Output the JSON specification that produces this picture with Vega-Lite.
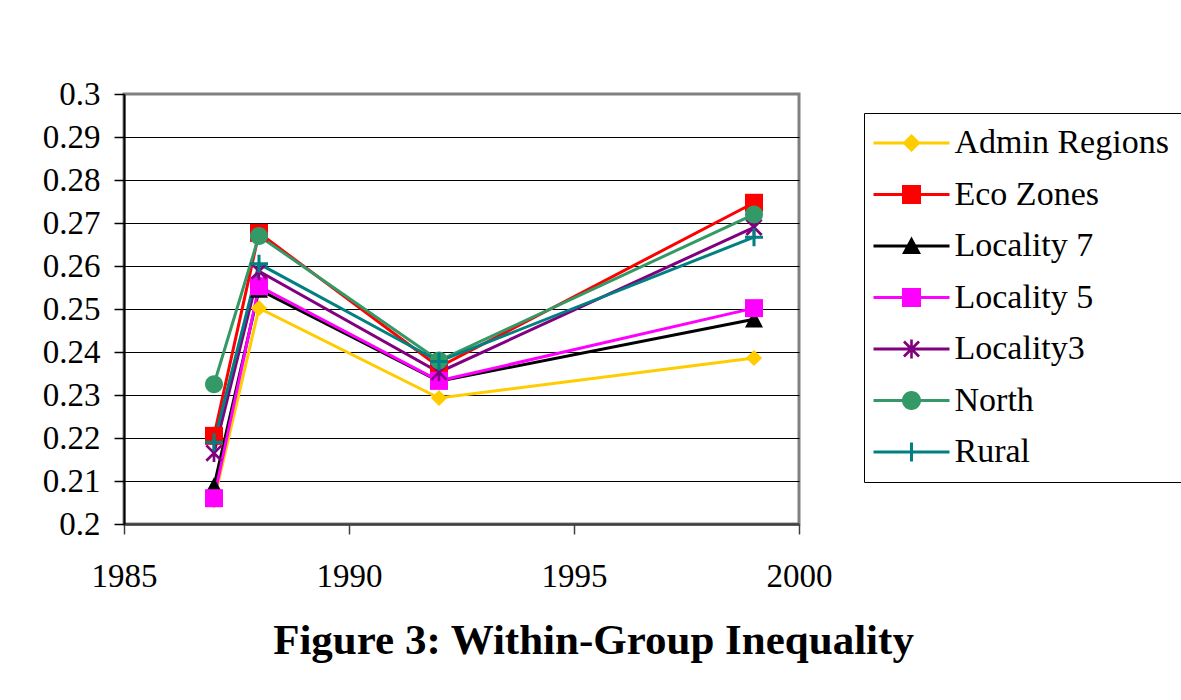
{
  "$schema": "https://vega.github.io/schema/vega-lite/v6.json",
  "width": 675,
  "height": 430,
  "autosize": {"type": "none"},
  "padding": {"left": 124, "top": 94, "right": 382, "bottom": 176},
  "background": "white",
  "config": {
    "view": {"stroke": "#808080", "strokeWidth": 3},
    "font": "Liberation Serif"
  },
  "title": {
    "text": "Figure 3: Within-Group Inequality",
    "orient": "bottom",
    "frame": "group",
    "anchor": "middle",
    "dx": 132,
    "offset": 27,
    "font": "Liberation Serif",
    "fontSize": 43,
    "fontWeight": "bold",
    "color": "black"
  },
  "data": {
    "values": [
      {"series": "Admin Regions", "year": 1987, "value": 0.2055},
      {"series": "Admin Regions", "year": 1988, "value": 0.2502},
      {"series": "Admin Regions", "year": 1992, "value": 0.2293},
      {"series": "Admin Regions", "year": 1999, "value": 0.2386},
      {"series": "Eco Zones", "year": 1987, "value": 0.2205},
      {"series": "Eco Zones", "year": 1988, "value": 0.2677},
      {"series": "Eco Zones", "year": 1992, "value": 0.2365},
      {"series": "Eco Zones", "year": 1999, "value": 0.2747},
      {"series": "Locality 7", "year": 1987, "value": 0.2088},
      {"series": "Locality 7", "year": 1988, "value": 0.2545},
      {"series": "Locality 7", "year": 1992, "value": 0.2332},
      {"series": "Locality 7", "year": 1999, "value": 0.2476},
      {"series": "Locality 5", "year": 1987, "value": 0.2060},
      {"series": "Locality 5", "year": 1988, "value": 0.2553},
      {"series": "Locality 5", "year": 1992, "value": 0.2333},
      {"series": "Locality 5", "year": 1999, "value": 0.2502},
      {"series": "Locality3", "year": 1987, "value": 0.2165},
      {"series": "Locality3", "year": 1988, "value": 0.2588},
      {"series": "Locality3", "year": 1992, "value": 0.2353},
      {"series": "Locality3", "year": 1999, "value": 0.2690},
      {"series": "North", "year": 1987, "value": 0.2325},
      {"series": "North", "year": 1988, "value": 0.2670},
      {"series": "North", "year": 1992, "value": 0.2380},
      {"series": "North", "year": 1999, "value": 0.2720},
      {"series": "Rural", "year": 1987, "value": 0.2190},
      {"series": "Rural", "year": 1988, "value": 0.2605},
      {"series": "Rural", "year": 1992, "value": 0.2378},
      {"series": "Rural", "year": 1999, "value": 0.2667}
    ]
  },
  "encoding": {
    "x": {
      "field": "year",
      "type": "quantitative",
      "scale": {"domain": [1985, 2000], "nice": false, "zero": false},
      "axis": {
        "title": null,
        "values": [1985, 1990, 1995, 2000],
        "format": "d",
        "grid": false,
        "labelFont": "Liberation Serif",
        "labelFontSize": 33,
        "labelColor": "black",
        "labelPadding": 26,
        "labelFlush": false,
        "domainColor": "#404040",
        "domainWidth": 2.5,
        "tickColor": "#404040",
        "tickSize": 10,
        "tickWidth": 1.5
      }
    },
    "y": {
      "field": "value",
      "type": "quantitative",
      "scale": {"domain": [0.2, 0.3], "nice": false, "zero": false},
      "axis": {
        "title": null,
        "values": [0.2, 0.21, 0.22, 0.23, 0.24, 0.25, 0.26, 0.27, 0.28, 0.29, 0.3],
        "format": ".2~f",
        "grid": true,
        "gridColor": "black",
        "gridWidth": 1,
        "gridOpacity": {"condition": {"test": "datum.value > 0.2995 || datum.value < 0.2005", "value": 0}, "value": 1},
        "labelFont": "Liberation Serif",
        "labelFontSize": 33,
        "labelColor": "black",
        "labelPadding": 14,
        "labelFlush": false,
        "domainColor": "black",
        "domainWidth": 2,
        "tickColor": "black",
        "tickSize": 10,
        "tickWidth": 1.5
      }
    }
  },
  "resolve": {
    "scale": {"color": "independent", "shape": "independent"},
    "legend": {"color": "independent", "shape": "independent"}
  },
  "layer": [
    {
      "mark": {"type": "line", "strokeWidth": 3},
      "encoding": {
        "color": {
          "field": "series",
          "type": "nominal",
          "scale": {
            "domain": ["Admin Regions", "Eco Zones", "Locality 7", "Locality 5", "Locality3", "North", "Rural"],
            "range": ["#FFCC00", "#FF0000", "#000000", "#FF00FF", "#800080", "#339966", "#008080"]
          },
          "legend": null
        }
      }
    },
    {
      "mark": {"type": "point", "filled": true, "size": 324, "strokeWidth": 0, "opacity": 1},
      "encoding": {
        "color": {
          "field": "series",
          "type": "nominal",
          "scale": {
            "domain": ["Admin Regions", "Eco Zones", "Locality 7", "Locality 5", "Locality3", "North", "Rural"],
            "range": ["#FFCC00", "#FF0000", "#000000", "#FF00FF", "#800080", "#339966", "#008080"]
          },
          "legend": null
        },
        "shape": {
          "field": "series",
          "type": "nominal",
          "scale": {
            "domain": ["Admin Regions", "Eco Zones", "Locality 7", "Locality 5", "Locality3", "North", "Rural"],
            "range": [
              "M0,-0.9L0.9,0L0,0.9L-0.9,0Z",
              "M-1,-1L1,-1L1,1L-1,1Z",
              "M0,-1L1,0.9L-1,0.9Z",
              "M-1,-1L1,-1L1,1L-1,1Z",
              "M-0.15,-1L0.15,-1L0.15,1L-0.15,1ZM-0.956,-0.744L-0.744,-0.956L0.956,0.744L0.744,0.956ZM-0.744,0.956L-0.956,0.744L0.744,-0.956L0.956,-0.744Z",
              "M-1,0A1,1,0,1,1,1,0A1,1,0,1,1,-1,0Z",
              "M-1,-0.17L-0.17,-0.17L-0.17,-1L0.17,-1L0.17,-0.17L1,-0.17L1,0.17L0.17,0.17L0.17,1L-0.17,1L-0.17,0.17L-1,0.17Z"
            ]
          },
          "legend": null
        }
      }
    },
    {
      "mark": {"type": "point", "filled": true, "size": 324, "strokeWidth": 0, "opacity": 0},
      "encoding": {
        "color": {
          "field": "series",
          "type": "nominal",
          "scale": {
            "domain": ["Admin Regions", "Eco Zones", "Locality 7", "Locality 5", "Locality3", "North", "Rural"],
            "range": ["#FFCC00", "#FF0000", "#000000", "#FF00FF", "#800080", "#339966", "#008080"]
          },
          "legend": {
            "title": null,
            "orient": "none",
            "legendX": 740,
            "legendY": 19,
            "strokeColor": "black",
            "fillColor": "white",
            "padding": 13,
            "labelFont": "Liberation Serif",
            "labelFontSize": 34,
            "labelColor": "black",
            "labelLimit": 400,
            "rowPadding": 17.5,
            "symbolSize": 400,
            "symbolStrokeWidth": 0,
            "symbolOpacity": 1,
            "symbolOffset": 17.5,
            "labelOffset": 26
          }
        },
        "shape": {
          "field": "series",
          "type": "nominal",
          "scale": {
            "domain": ["Admin Regions", "Eco Zones", "Locality 7", "Locality 5", "Locality3", "North", "Rural"],
            "range": [
              "M-3.8,-0.15L3.8,-0.15L3.8,0.15L-3.8,0.15ZM0,-0.9L0.9,0L0,0.9L-0.9,0Z",
              "M-3.8,-0.15L3.8,-0.15L3.8,0.15L-3.8,0.15ZM-0.95,-0.95L0.95,-0.95L0.95,0.95L-0.95,0.95Z",
              "M-3.8,-0.15L3.8,-0.15L3.8,0.15L-3.8,0.15ZM0,-0.95L0.95,0.8L-0.95,0.8Z",
              "M-3.8,-0.15L3.8,-0.15L3.8,0.15L-3.8,0.15ZM-0.95,-0.95L0.95,-0.95L0.95,0.95L-0.95,0.95Z",
              "M-3.8,-0.15L3.8,-0.15L3.8,0.15L-3.8,0.15ZM-0.13,-0.95L0.13,-0.95L0.13,0.95L-0.13,0.95ZM-0.85,-0.66L-0.66,-0.85L0.85,0.66L0.66,0.85ZM-0.66,0.85L-0.85,0.66L0.66,-0.85L0.85,-0.66Z",
              "M-3.8,-0.15L3.8,-0.15L3.8,0.15L-3.8,0.15ZM-0.95,0A0.95,0.95,0,1,1,0.95,0A0.95,0.95,0,1,1,-0.95,0Z",
              "M-3.8,-0.15L3.8,-0.15L3.8,0.15L-3.8,0.15ZM-0.15,-0.95L0.15,-0.95L0.15,0.95L-0.15,0.95Z"
            ]
          },
          "legend": {
            "title": null,
            "orient": "none",
            "legendX": 740,
            "legendY": 19,
            "strokeColor": "black",
            "fillColor": "white",
            "padding": 13,
            "labelFont": "Liberation Serif",
            "labelFontSize": 34,
            "labelColor": "black",
            "labelLimit": 400,
            "rowPadding": 17.5,
            "symbolSize": 400,
            "symbolStrokeWidth": 0,
            "symbolOpacity": 1,
            "symbolOffset": 17.5,
            "labelOffset": 26
          }
        }
      }
    }
  ]
}
